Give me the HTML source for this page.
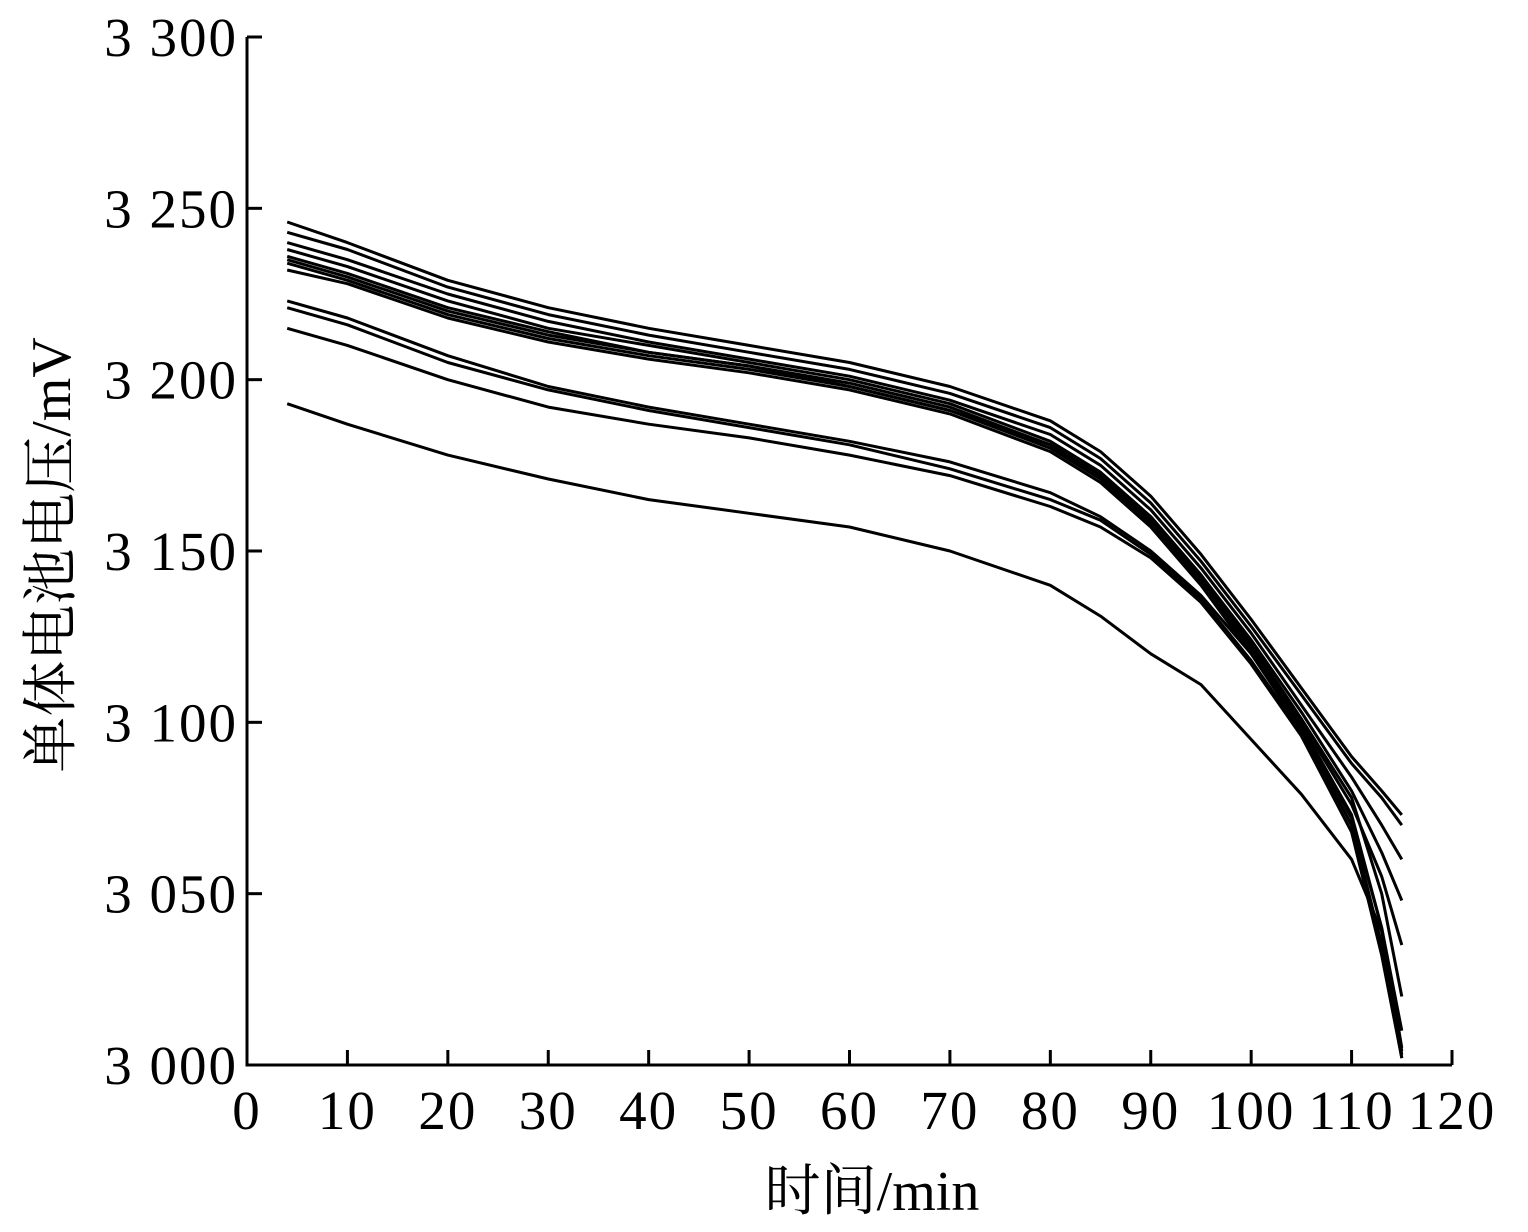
<!DOCTYPE html>
<html><head><meta charset="utf-8"><style>
body{margin:0;background:#fff}
svg text{font-family:"Liberation Serif","Noto Serif CJK SC",serif;fill:#000}
</style></head><body>
<svg id="c" width="1528" height="1227"></svg>
<script>
const times=[4,10,20,30,40,50,60,70,80,85,90,95,100,105,110,113,115];
const s1=[3246,3240,3229,3221,3215,3210,3205,3198,3188,3179,3166,3149,3130,3110,3090,3080,3073];
const s2=[3243,3238,3227,3219,3213,3208,3203,3196,3186,3177,3164,3147,3128,3108,3088,3078,3070];
const s3=[3240,3235,3225,3217,3211,3206,3201,3194,3184,3175,3162,3145,3126,3105,3084,3070,3060];
const s4=[3238,3233,3223,3215,3210,3205,3200,3193,3182,3173,3160,3143,3124,3103,3080,3062,3048];
const s5=[3236,3231,3221,3214,3208,3204,3199,3192,3181,3172,3159,3142,3122,3100,3076,3055,3035];
const s6=[3234,3229,3219,3212,3207,3203,3198,3191,3180,3171,3158,3141,3121,3099,3072,3040,3010];
const s7=[3232,3228,3218,3211,3206,3202,3197,3190,3179,3170,3157,3140,3120,3098,3070,3035,3002];
const s8=[3235,3230,3220,3213,3208,3204,3198,3191,3181,3172,3160,3143,3123,3101,3078,3050,3020];
const s9=[3223,3218,3207,3198,3192,3187,3182,3176,3167,3160,3150,3137,3120,3099,3073,3040,3005];
const s10=[3221,3216,3205,3197,3191,3186,3181,3174,3165,3159,3149,3136,3118,3097,3070,3035,3003];
const s11=[3215,3210,3200,3192,3187,3183,3178,3172,3163,3157,3148,3135,3117,3096,3068,3032,3002];
const s12=[3193,3187,3178,3171,3165,3161,3157,3150,3140,3131,3120,3111,3095,3079,3060,3039,3004];
const series=[s1,s2,s3,s4,s5,s6,s7,s8,s9,s10,s11,s12];
const xTicks=[0,10,20,30,40,50,60,70,80,90,100,110,120];
const yTicks=[3000,3050,3100,3150,3200,3250,3300];
const yLabels=["3 000","3 050","3 100","3 150","3 200","3 250","3 300"];
const X=t=>247+t*(1452-247)/120;
const Y=v=>1065-(v-3000)*(1065-37)/300;
const svg=document.getElementById('c');const NS='http://www.w3.org/2000/svg';
function el(tag,attrs,parent){const e=document.createElementNS(NS,tag);for(const k in attrs)e.setAttribute(k,attrs[k]);(parent||svg).appendChild(e);return e;}
const axes=el('path',{d:`M247,37 L247,1065 L1452,1065`,stroke:'#000','stroke-width':3,fill:'none'});


xTicks.forEach(t=>{
 const l=el('line',{x1:X(t),x2:X(t),y1:1065,y2:1050,stroke:'#000','stroke-width':3});
 
 
 const tx=el('text',{x:X(t),y:1129,'text-anchor':'middle','font-size':55,'letter-spacing':2});tx.textContent=t;
 
 
});
yTicks.forEach((v,i)=>{
 const l=el('line',{x1:247,x2:262,y1:Y(v),y2:Y(v),stroke:'#000','stroke-width':3});
 
 
 const tx=el('text',{x:238,y:Y(v)+19,'text-anchor':'end','font-size':55,'letter-spacing':2});tx.textContent=yLabels[i];
 
 
});
series.forEach((s,i)=>{
 const d=s.map((v,j)=>(j?'L':'M')+X(times[j]).toFixed(1)+','+Y(v).toFixed(1)).join(' ');
 const p=el('path',{d:d,stroke:'#000','stroke-width':3,fill:'none','stroke-linejoin':'round'});
 
 
});
const xt=el('text',{x:872,y:1210,'text-anchor':'middle','font-size':56});xt.textContent='时间/min';


const yt=el('text',{x:0,y:0,'text-anchor':'middle','font-size':56,transform:'translate(70,555) rotate(-90)'});yt.textContent='单体电池电压/mV';


</script>
</body></html>
